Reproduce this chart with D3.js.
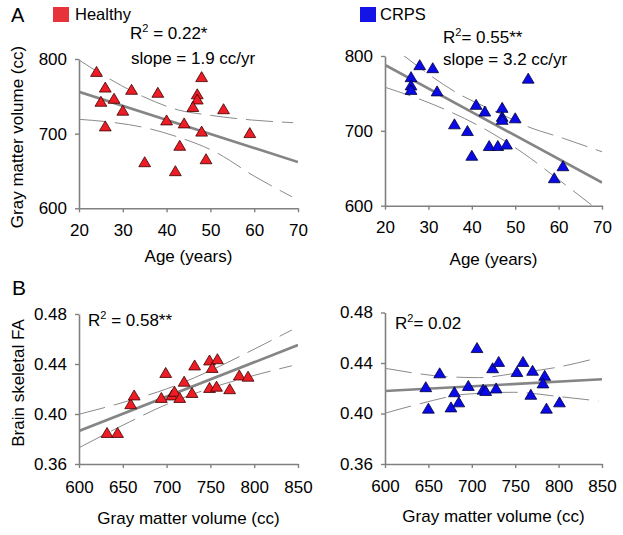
<!DOCTYPE html>
<html><head><meta charset="utf-8">
<script src="https://cdn.jsdelivr.net/npm/d3@7"></script>
<style>
body{margin:0;background:#fff}
svg text{font-family:"Liberation Sans",Arial,Helvetica,sans-serif;fill:#000}
</style></head><body>
<svg id="chart" width="623" height="535"></svg>
<script>
// ---------- data ----------
const ageTicks = [20, 30, 40, 50, 60, 70];
const gmvTicksY = [600, 700, 800];
const gmvTicksX = [600, 650, 700, 750, 800, 850];
const faTicks = [0.36, 0.40, 0.44, 0.48];

// Panel A, healthy: age vs gray matter volume
const healthyAge = [24,26,25,28,30,26,32,38,48,47,47,46,53,40,44,48,59,43,35,49,42];
const healthyGMV = [783,762,743,747,731,710,759,755,776,753,746,736,733,718,714,703,701,684,662,666,650];
// Panel A, CRPS
const crpsAge = [28,31,26,26,26,32,53,41,43,47,47,47,50,36,39,40,44,46,48,59,61];
const crpsGMV = [788,784,772,761,755,753,770,735,726,731,719,715,717,709,700,667,680,680,682,637,653];

// Panel B, healthy: gray matter volume vs brain skeletal FA
const healthyGMVb = [632,644,659,663,699,694,706,709,715,720,729,732,749,758,752,749,757,772,783,793];
const healthyFA = [0.385,0.385,0.408,0.415,0.433,0.413,0.415,0.418,0.413,0.426,0.417,0.439,0.443,0.444,0.437,0.421,0.422,0.420,0.431,0.430];
// Panel B, CRPS
const crpsGMVb = [647,650,663,676,680,685,696,706,713,716,724,731,728,752,759,770,768,784,782,786,801];
const crpsFA = [0.421,0.404,0.432,0.405,0.417,0.409,0.422,0.452,0.419,0.418,0.436,0.441,0.420,0.433,0.441,0.434,0.415,0.430,0.424,0.404,0.409];

// regression lines (end points)
const ageFitX = [20, 70];
const healthyAgeFitY = [756, 662];
const crpsAgeFitY = [788, 631];
const gmvFitX = [600, 850];
const healthyFaFitY = [0.3864, 0.4552];
const crpsFaFitY = [0.4178, 0.4271];

// confidence bands
const healthyAgeCiUpX = [20, 25.9, 34.7, 42.7, 49.5, 59.4, 68.9];
const healthyAgeCiUpY = [798.7, 777, 749.5, 731.7, 725, 718.3, 714.7];
const healthyAgeCiLoX = [20, 28.2, 34.7, 41.9, 51, 60.2, 68.6];
const healthyAgeCiLoY = [719.2, 714.7, 708.5, 696.8, 675.8, 642.4, 615.5];

const crpsAgeCiUpX = [24.2, 36.5, 47.3, 51.9, 61.1, 70];
const crpsAgeCiUpY = [801, 751, 721, 708, 690, 672];
const crpsAgeCiLoX = [20, 28.5, 35, 43.4, 51.9, 59.6, 67.6];
const crpsAgeCiLoY = [758.2, 741.2, 725.6, 701.1, 670, 636.6, 600.9];

const healthyFaCiUpX = [600, 656, 700, 750, 800, 843];
const healthyFaCiUpY = [0.3998, 0.4104, 0.4201, 0.4347, 0.4519, 0.4672];
const healthyFaCiLoX = [600, 658, 700, 750, 800, 843];
const healthyFaCiLoY = [0.3730, 0.3938, 0.4077, 0.4207, 0.4309, 0.4386];

const crpsFaCiUpX = [600, 671, 709, 750, 802, 846];
const crpsFaCiUpY = [0.4358, 0.4292, 0.4284, 0.4318, 0.4371, 0.4442];
const crpsFaCiLoX = [600, 638, 692, 748, 802, 846];
const crpsFaCiLoY = [0.4002, 0.4073, 0.4152, 0.4168, 0.4133, 0.4099];

const groupNames = ["Healthy", "CRPS"];
const groupColors = ["#ee1c24", "#0a0ae8"];
const groupStrokes = ["#3a0000", "#00003a"];

// ---------- layout ----------
const svg = d3.select("#chart");
const zip = (a, b) => a.map((v, i) => [v, b[i]]);

const panels = [
  { xDom:[20,70], yDom:[600,800], xR:[79,298], yR:[208.3,59], xTicks:ageTicks, yTicks:gmvTicksY,
    yFmt:d3.format("d"), pts:zip(healthyAge, healthyGMV), g:0,
    fit:zip(ageFitX, healthyAgeFitY), up:zip(healthyAgeCiUpX, healthyAgeCiUpY), lo:zip(healthyAgeCiLoX, healthyAgeCiLoY),
    xPad:12, xTitle:"Age (years)", xTitleY:262,
    notes:[{x:130, y:39, r:"R", sup:"2", rest:" = 0.22*"}, {x:131, y:64, text:"slope = 1.9 cc/yr"}] },
  { xDom:[20,70], yDom:[600,800], xR:[385,602], yR:[205.7,56], xTicks:ageTicks, yTicks:gmvTicksY,
    yFmt:d3.format("d"), pts:zip(crpsAge, crpsGMV), g:1,
    fit:zip(ageFitX, crpsAgeFitY), up:zip(crpsAgeCiUpX, crpsAgeCiUpY), lo:zip(crpsAgeCiLoX, crpsAgeCiLoY),
    xPad:11, xTitle:"Age (years)", xTitleY:265,
    notes:[{x:443, y:43, r:"R", sup:"2", rest:"= 0.55**"}, {x:443, y:65, text:"slope = 3.2 cc/yr"}] },
  { xDom:[600,850], yDom:[0.36,0.48], xR:[79,298], yR:[464,314], xTicks:gmvTicksX, yTicks:faTicks,
    yFmt:d3.format(".2f"), pts:zip(healthyGMVb, healthyFA), g:0,
    fit:zip(gmvFitX, healthyFaFitY), up:zip(healthyFaCiUpX, healthyFaCiUpY), lo:zip(healthyFaCiLoX, healthyFaCiLoY),
    xPad:13, xTitle:"Gray matter volume (cc)", xTitleY:524,
    notes:[{x:88, y:326, r:"R", sup:"2", rest:" = 0.58**"}] },
  { xDom:[600,850], yDom:[0.36,0.48], xR:[385,602], yR:[464,312.5], xTicks:gmvTicksX, yTicks:faTicks,
    yFmt:d3.format(".2f"), pts:zip(crpsGMVb, crpsFA), g:1,
    fit:zip(gmvFitX, crpsFaFitY), up:zip(crpsFaCiUpX, crpsFaCiUpY), lo:zip(crpsFaCiLoX, crpsFaCiLoY),
    xPad:12, xTitle:"Gray matter volume (cc)", xTitleY:522,
    notes:[{x:395, y:329, r:"R", sup:"2", rest:"= 0.02"}] }
];

const tri = "M0,-5.3L5.9,4.7L-5.9,4.7Z";
const axisColor = "#808080";

panels.forEach((p, i) => {
  const x = d3.scaleLinear().domain(p.xDom).range(p.xR);
  const y = d3.scaleLinear().domain(p.yDom).range(p.yR);
  const g = svg.append("g");

  const clipId = "clip" + i;
  svg.append("clipPath").attr("id", clipId).append("rect")
    .attr("x", p.xR[0]).attr("y", p.yR[1]).attr("width", p.xR[1] - p.xR[0]).attr("height", p.yR[0] - p.yR[1]);

  // axes
  const xa = g.append("g").attr("transform", `translate(0,${p.yR[0]})`)
    .call(d3.axisBottom(x).tickValues(p.xTicks).tickFormat(d3.format("d")).tickSize(4).tickSizeOuter(0).tickPadding(p.xPad));
  const ya = g.append("g").attr("transform", `translate(${p.xR[0]},0)`)
    .call(d3.axisLeft(y).tickValues(p.yTicks).tickFormat(p.yFmt).tickSize(4).tickSizeOuter(0).tickPadding(8));
  [xa, ya].forEach(a => {
    a.select(".domain").attr("stroke", axisColor).attr("stroke-width", 1.6);
    a.selectAll(".tick line").attr("stroke", axisColor).attr("stroke-width", 1.4);
    a.selectAll(".tick text").attr("font-size", 17).attr("fill", "#000")
      .style("font-family", '"Liberation Sans",Arial,sans-serif');
  });

  const line = d3.line().x(d => x(d[0])).y(d => y(d[1]));
  const curve = d3.line().x(d => x(d[0])).y(d => y(d[1])).curve(d3.curveMonotoneX);
  const plot = g.append("g").attr("clip-path", `url(#${clipId})`);
  [p.up, p.lo].forEach(band => {
    plot.append("path").attr("d", curve(band)).attr("fill", "none")
      .attr("stroke", "#8a8a8a").attr("stroke-width", 1).attr("stroke-dasharray", "27,9");
  });
  plot.append("path").attr("d", line(p.fit)).attr("fill", "none")
    .attr("stroke", "#858585").attr("stroke-width", 2.6);

  g.append("g").selectAll("path.pt").data(p.pts).join("path").attr("class", "pt")
    .attr("d", tri).attr("transform", d => `translate(${x(d[0])},${y(d[1])})`)
    .attr("fill", groupColors[p.g]).attr("stroke", groupStrokes[p.g]).attr("stroke-width", 0.8);

  // x title
  g.append("text").attr("x", (p.xR[0] + p.xR[1]) / 2).attr("y", p.xTitleY)
    .attr("text-anchor", "middle").attr("font-size", 17).text(p.xTitle);

  // annotations
  p.notes.forEach(n => {
    const t = g.append("text").attr("x", n.x).attr("y", n.y).attr("font-size", 17);
    if (n.text) { t.text(n.text); }
    else {
      t.append("tspan").text(n.r);
      t.append("tspan").attr("font-size", 11).attr("dy", -7).text(n.sup);
      t.append("tspan").attr("dy", 7).text(n.rest);
    }
  });
});

// y titles
svg.append("text").attr("transform", "translate(22.5,137) rotate(-90)")
  .attr("text-anchor", "middle").attr("font-size", 17).text("Gray matter volume (cc)");
svg.append("text").attr("transform", "translate(24,383) rotate(-90)")
  .attr("text-anchor", "middle").attr("font-size", 17).text("Brain skeletal FA");

// panel letters
svg.append("text").attr("x", 11).attr("y", 22).attr("font-size", 20).text("A");
svg.append("text").attr("x", 12).attr("y", 295).attr("font-size", 21).text("B");

// legend
const legendPos = [[53, 7, 75, 20], [360, 7, 380, 20]];
groupNames.forEach((name, i) => {
  const [sx, sy, tx, ty] = legendPos[i];
  svg.append("rect").attr("x", sx).attr("y", sy).attr("width", 16).attr("height", 15)
    .attr("fill", i === 0 ? "#e8323a" : "#1414e6");
  svg.append("text").attr("x", tx).attr("y", ty).attr("font-size", 16.5).text(name);
});
</script>
</body></html>
